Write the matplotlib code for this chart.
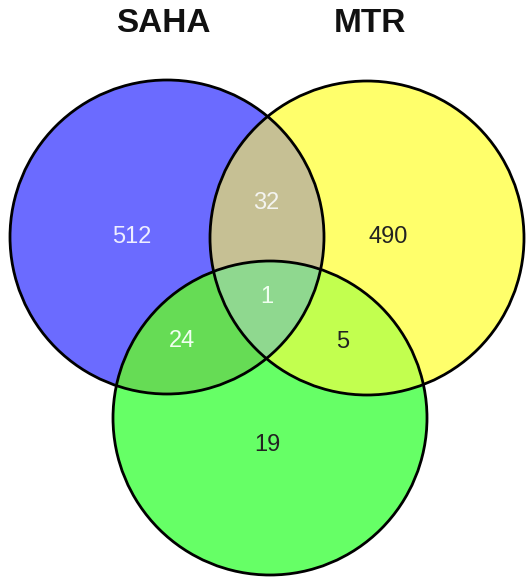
import numpy as np
import matplotlib
matplotlib.use("Agg")
import matplotlib.pyplot as plt
from matplotlib.patches import Circle

# set names and region counts
set_names = ["SAHA", "MTR"]
region_keys = ["A", "B", "C", "AB", "AC", "BC", "ABC"]
region_counts = [512, 490, 19, 32, 24, 5, 1]

# region colours (reference look)
region_colors = {
    "A": "#6b6bff", "B": "#ffff6b", "C": "#66ff66",
    "AB": "#c6c194", "AC": "#66dc55", "BC": "#c3ff50", "ABC": "#90d98f",
}
text_colors = {
    "A": "#eeeeff", "B": "#222222", "C": "#222222",
    "AB": "#f4f4f0", "AC": "#f0fff0", "BC": "#222222", "ABC": "#f0fff0",
}

# geometry in pixel units (y down)
centers = [(167, 237), (367, 238), (270, 418)]
radius = 157
label_pos = {
    "A": (132, 237), "B": (388, 237), "C": (267, 445),
    "AB": (266, 203), "AC": (182, 341), "BC": (343, 342), "ABC": (267, 297),
}
W, H = 530, 580

fig = plt.figure(figsize=(5.3, 5.8), dpi=100)
ax = fig.add_axes([0, 0, 1, 1])
ax.set_xlim(0, W)
ax.set_ylim(H, 0)
ax.set_aspect("equal")
ax.axis("off")

# fill regions with a fine grid
n = 3
xs = (np.arange(W * n) + 0.5) / n
ys = (np.arange(H * n) + 0.5) / n
X, Y = np.meshgrid(xs, ys)
inside = [(X - cx) ** 2 + (Y - cy) ** 2 <= radius ** 2 for cx, cy in centers]
img = np.ones((H * n, W * n, 4))
img[..., 3] = 0
for key in region_keys:
    want = ["A" in key, "B" in key, "C" in key]
    m = np.ones_like(X, dtype=bool)
    for i in range(3):
        m &= inside[i] if want[i] else ~inside[i]
    img[m] = matplotlib.colors.to_rgba(region_colors[key])
ax.imshow(img, extent=(0, W, H, 0), interpolation="antialiased", zorder=1)

for cx, cy in centers:
    ax.add_patch(Circle((cx, cy), radius, fill=False, ec="black", lw=2.0, zorder=2))

for key, val in zip(region_keys, region_counts):
    x, y = label_pos[key]
    ax.text(x, y, str(val), ha="center", va="center", fontsize=17,
            family="Liberation Sans", color=text_colors[key], zorder=3)

ax.text(163, 23, set_names[0], ha="center", va="center", fontsize=24,
        fontweight="bold", family="Liberation Sans", color="#111111")
ax.text(370, 23, set_names[1], ha="center", va="center", fontsize=24,
        fontweight="bold", family="Liberation Sans", color="#111111")

fig.savefig("out.png", dpi=100)
